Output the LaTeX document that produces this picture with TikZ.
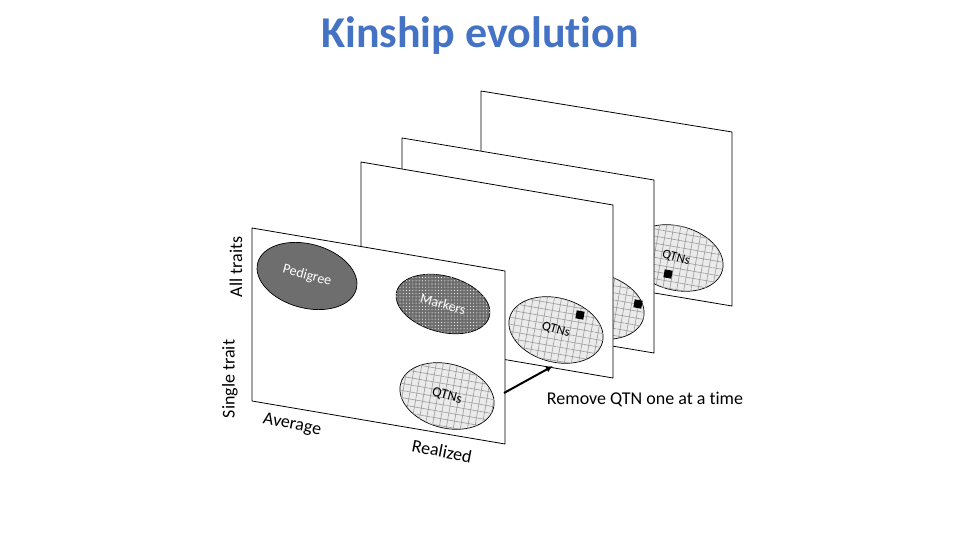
\documentclass[tikz,border=0pt]{standalone}
\usepackage{fontspec}
\setmainfont{Carlito}[Ligatures={NoCommon}]
\usetikzlibrary{shapes.geometric,patterns.meta,arrows.meta}
\definecolor{titleblue}{HTML}{4472C4}
\definecolor{darkfill}{HTML}{6E6E6E}
\definecolor{qfill}{HTML}{EBEBEB}
\definecolor{qgrid}{HTML}{9A9A9A}
\tikzset{
  panel/.style={draw=black, fill=white, line width=0.8pt, line join=miter},
  oval/.style={ellipse, draw=black, line width=0.7pt, inner sep=0pt, rotate=-15},
  pedoval/.style={oval, fill=darkfill, minimum width=102pt, minimum height=64pt,
    text=white, font=\fontsize{14}{16}\selectfont},
  markoval/.style={oval, fill=darkfill, minimum width=96pt, minimum height=56pt,
    text=white, font=\fontsize{14}{16}\selectfont,
    postaction={pattern={Dots[radius=0.55pt,distance=3.2pt]}, pattern color=white}},
  qtnoval/.style={oval, fill=qfill, minimum width=96pt, minimum height=64pt,
    font=\fontsize{14}{16}\selectfont,
    postaction={pattern={Lines[angle=-10,distance=7pt,line width=0.6pt]}, pattern color=qgrid},
    postaction={pattern={Lines[angle=80,distance=7pt,line width=0.6pt]}, pattern color=qgrid}},
  smallq/.style={font=\fontsize{13}{15}\selectfont},
  qsq/.style={fill=black, minimum size=8pt, inner sep=0pt, rotate=-10},
  axlabel/.style={font=\fontsize{18}{20}\selectfont},
}
\begin{document}
\begin{tikzpicture}[x=1pt,y=-1pt]
\useasboundingbox (0,0) rectangle (960,540);
\node[font=\fontsize{44}{48}\selectfont\bfseries, text=titleblue] (title) at (480,36) {Kinship evolution};
% panel 4 (back)
\draw[panel] (481,91) -- (732,132) -- (732,306) -- (481,264) -- cycle;
\node[qtnoval, smallq] (q4) at (676,258) {\raisebox{2pt}{QTNs}};
\node[qsq] (s4) at (668,274) {};
% panel 3
\draw[panel] (402,138) -- (654,180) -- (654,353) -- (402,311) -- cycle;
\node[qtnoval] (q3) at (597,306) {};
\node[qsq] (s3) at (638,304) {};
% panel 2
\draw[panel] (361,162) -- (613,205) -- (613,378) -- (361,335) -- cycle;
\node[qtnoval, smallq] (q2) at (556,330) {QTNs};
\node[qsq] (s2) at (580,315) {};
% panel 1 (front)
\draw[panel] (252,228) -- (505,271) -- (505,444) -- (252,401) -- cycle;
\node[pedoval] (ped) at (307,276) {\raisebox{3pt}{Pedigree}};
\node[markoval] (mark) at (443,304) {Markers};
\node[qtnoval] (q1) at (447,396) {QTNs};
% labels
\node[axlabel, rotate=90] (all) at (236,267) {All traits};
\node[axlabel, rotate=90] (single) at (230,379) {Single trait};
\node[axlabel, rotate=-11] (avg) at (292,425) {Average};
\node[axlabel, rotate=-11] (real) at (442,451) {Realized};
\node[axlabel] (remove) at (645,399) {Remove QTN one at a time};
% arrow
\coordinate (a0) at (504,393);
\coordinate (a1) at (553,366);
\draw[-{Latex[length=7pt,width=6pt]}, line width=2pt] (a0) -- (a1);
\end{tikzpicture}
\end{document}
